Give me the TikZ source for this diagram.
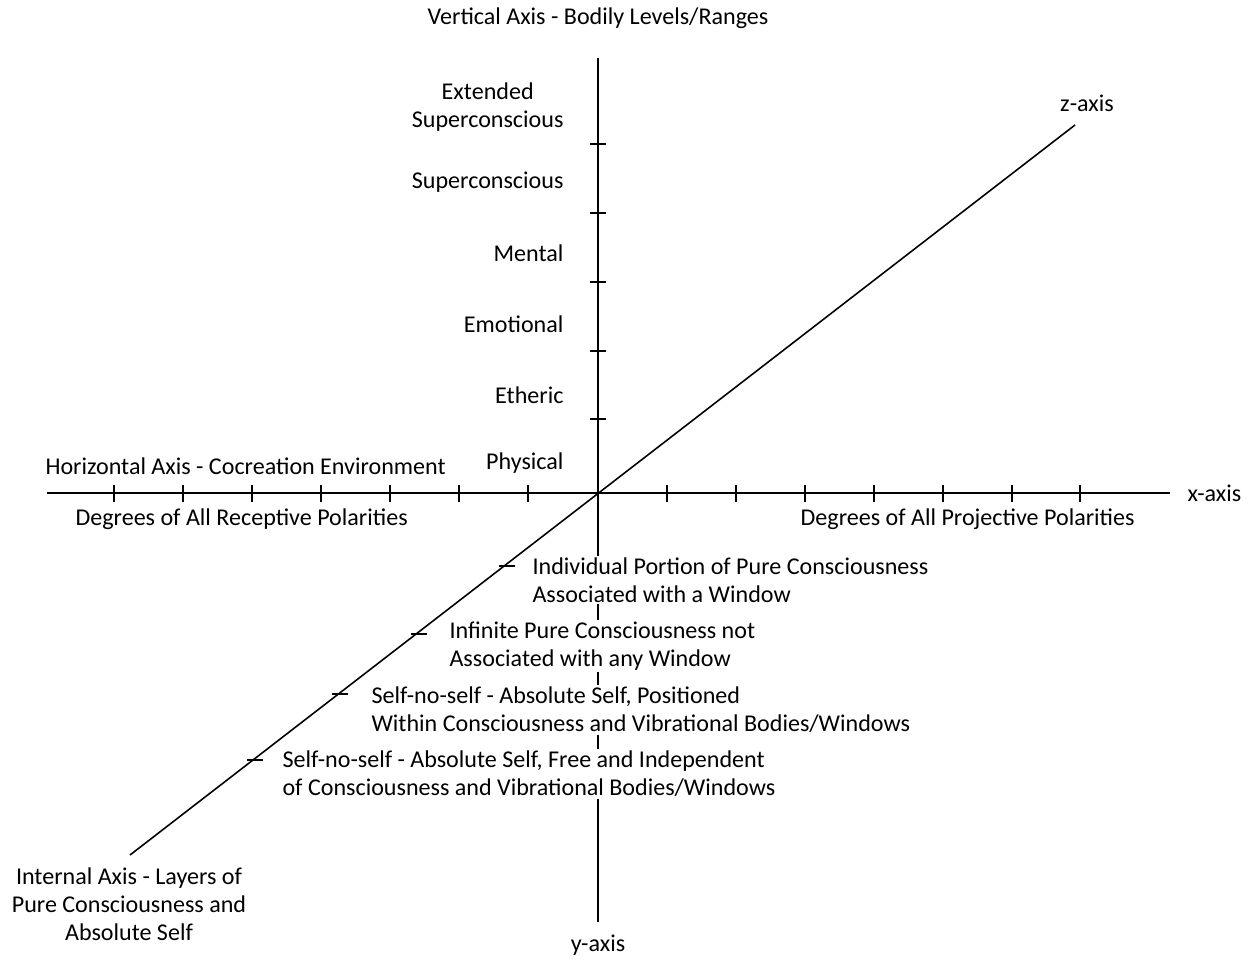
\documentclass[tikz,border=0pt]{standalone}
\usepackage{fontspec}
\setmainfont{Carlito}
\usepackage{tikz}

\begin{document}
\begin{tikzpicture}[x=0.02cm,y=-0.02cm,line width=0.9pt,
    lbl/.style={font=\fontsize{13.7}{15.9}\selectfont,inner sep=1pt},
    lvl/.style={lbl,anchor=east,align=center},
    zlbl/.style={lbl,anchor=west,align=left,fill=white}]
  \useasboundingbox (0,0) rectangle (1250,960);

  % axes
  \coordinate (O) at (598,493);
  \coordinate (ytop) at (598,58);
  \coordinate (ybot) at (598,922);
  \coordinate (xl) at (47,493);
  \coordinate (xr) at (1170,493);
  \coordinate (zl) at (130,855);
  \coordinate (zr) at (1075,125);

  \draw (ytop) -- (ybot);
  \draw (xl) -- (xr);
  \draw (zl) -- (zr);

  % ticks
  \foreach \y in {144,213,282,351,419}
    \draw (590,\y) -- (606,\y);
  \foreach \x in {114,183,252,321,390,459,528,667,736,805,874,943,1012,1080}
    \draw (\x,485) -- (\x,502);
  \foreach \x/\y in {507/566,419/634,340/694,255/760}
    \draw (\x-8,\y) -- (\x+8,\y);

  % axis names
  \node [lbl] (vtitle) at (598,18) {Vertical Axis - Bodily Levels/Ranges};
  \node [lbl,anchor=west] (xname) at (1185,493) {x-axis};
  \node [lbl] (yname) at (598,945) {y-axis};
  \node [lbl] (zname) at (1087,103) {z-axis};
  \node [lbl,anchor=west] (htitle) at (43,466) {Horizontal Axis - Cocreation Environment};
  \node [lbl,anchor=west] (recv) at (73,519) {Degrees of All Receptive Polarities};
  \node [lbl,anchor=east] (proj) at (1137,519) {Degrees of All Projective Polarities};
  \node [lbl,align=center] (ititle) at (129,904) {Internal Axis - Layers of\\Pure Consciousness and\\Absolute Self};

  % bodily levels
  \node [lvl] (ext) at (566,107) {Extended\\Superconscious};
  \node [lvl] (sup) at (566,182) {Superconscious};
  \node [lvl] (men) at (566,253) {Mental};
  \node [lvl] (emo) at (566,324) {Emotional};
  \node [lvl] (eth) at (566,395) {Etheric};
  \node [lvl] (phy) at (566,463) {Physical};

  % layers of pure consciousness
  \node [zlbl] (ind) at (530,580) {Individual Portion of Pure Consciousness\\Associated with a Window};
  \node [zlbl] (inf) at (447,646) {Infinite Pure Consciousness not\\Associated with any Window};
  \node [zlbl] (pos) at (369,710) {Self-no-self - Absolute Self, Positioned\\Within Consciousness and Vibrational Bodies/Windows};
  \node [zlbl] (fre) at (280,774) {Self-no-self - Absolute Self, Free and Independent\\of Consciousness and Vibrational Bodies/Windows};
\end{tikzpicture}
\end{document}
